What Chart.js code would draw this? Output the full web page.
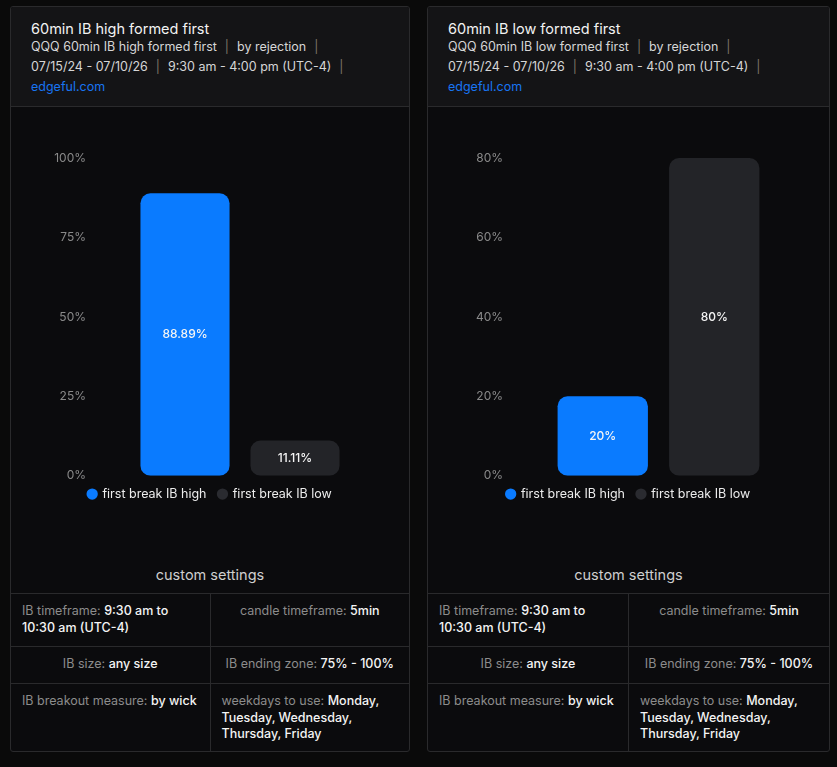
<!DOCTYPE html>
<html>
<head>
<meta charset="utf-8">
<script src="https://cdn.jsdelivr.net/npm/chart.js@4.4.1/dist/chart.umd.min.js"></script>
<style>
  body { margin: 0; background: #0a0a0a; font-family: Inter, "Noto Sans", sans-serif; width: 837px; height: 767px; position: relative; overflow: hidden; }
  .card { position: absolute; top: 6px; height: 744px; border: 1px solid #2a2a2c; border-radius: 3px; background: #0b0b0d; overflow: hidden; }
  .head { height: 100px; background: #141416; border-bottom: 1px solid #2a2a2c; padding-left: 20px; box-sizing: border-box; }
  .title { color: #f2f2f2; font-size: 14.5px; padding-top: 13px; line-height: 18px; }
  .sub { color: #d6d6d6; font-size: 12.5px; line-height: 20px; margin-top: -1px; margin-bottom: 1px; }
  .sep { color: #7c7466; margin: 0 8px; }
  .link { color: #1874f2; font-size: 12.5px; line-height: 20px; margin-top: -1px; }
  .chartbox { position: relative; height: 412px; }
  .cs { text-align: center; color: #cfcfcf; font-size: 14.5px; height: 74px; line-height: 24px; padding-top: 44px; box-sizing: border-box; }
  table { width: 100%; border-collapse: collapse; font-size: 12.5px; line-height: 16.5px; }
  td { border-top: 1px solid #2a2a2c; color: #8c8c8c; vertical-align: top; padding: 9px 11px; width: 50%; box-sizing: border-box; }
  td + td { border-left: 1px solid #2a2a2c; }
  td b { color: #f4f4f4; font-weight: 500; }
  .c { text-align: center; }
  .r1 td { height: 53px; }
  .r2 td { height: 37px; }
  .r3 td { height: 68px; }
</style>
</head>
<body>

<div class="card" style="left:10px;width:398px;">
  <div class="head">
    <div class="title">60min IB high formed first</div>
    <div class="sub">QQQ 60min IB high formed first<span class="sep">|</span>by rejection<span class="sep">|</span></div>
    <div class="sub">07/15/24 - 07/10/26<span class="sep">|</span>9:30 am - 4:00 pm (UTC-4)<span class="sep">|</span></div>
    <div class="link">edgeful.com</div>
  </div>
  <div class="chartbox"><canvas id="leftChart"></canvas></div>
  <div class="cs">custom settings</div>
  <table>
    <tr class="r1"><td>IB timeframe: <b>9:30 am to<br>10:30 am (UTC-4)</b></td><td class="c">candle timeframe: <b>5min</b></td></tr>
    <tr class="r2"><td class="c">IB size: <b>any size</b></td><td class="c">IB ending zone: <b>75% - 100%</b></td></tr>
    <tr class="r3"><td>IB breakout measure: <b>by wick</b></td><td>weekdays to use: <b>Monday,<br>Tuesday, Wednesday,<br>Thursday, Friday</b></td></tr>
  </table>
</div>

<div class="card" style="left:427px;width:401px;">
  <div class="head">
    <div class="title">60min IB low formed first</div>
    <div class="sub">QQQ 60min IB low formed first<span class="sep">|</span>by rejection<span class="sep">|</span></div>
    <div class="sub">07/15/24 - 07/10/26<span class="sep">|</span>9:30 am - 4:00 pm (UTC-4)<span class="sep">|</span></div>
    <div class="link">edgeful.com</div>
  </div>
  <div class="chartbox"><canvas id="rightChart"></canvas></div>
  <div class="cs">custom settings</div>
  <table>
    <tr class="r1"><td>IB timeframe: <b>9:30 am to<br>10:30 am (UTC-4)</b></td><td class="c">candle timeframe: <b>5min</b></td></tr>
    <tr class="r2"><td class="c">IB size: <b>any size</b></td><td class="c">IB ending zone: <b>75% - 100%</b></td></tr>
    <tr class="r3"><td>IB breakout measure: <b>by wick</b></td><td>weekdays to use: <b>Monday,<br>Tuesday, Wednesday,<br>Thursday, Friday</b></td></tr>
  </table>
</div>

<script>
// chart data
const categories = ['first break IB high', 'first break IB low'];
const highFirstValues = [88.89, 11.11];
const lowFirstValues = [20, 80];
const highFirstTicks = [0, 25, 50, 75, 100];
const lowFirstTicks = [0, 20, 40, 60, 80];
const barColors = ['#0a7bff', '#232428'];
const dotColors = ['#0a7bff', '#2a2b30'];

// draws the value in the middle of each bar
const valueLabels = {
    id: 'valueLabels',
    afterDatasetsDraw(chart) {
        const ctx = chart.ctx;
        const meta = chart.getDatasetMeta(0);
        ctx.save();
        ctx.fillStyle = '#f5f5f5';
        ctx.font = '500 12px Inter, sans-serif';
        ctx.textAlign = 'center';
        ctx.textBaseline = 'middle';
        meta.data.forEach((bar, i) => {
            const v = chart.data.datasets[0].data[i];
            ctx.fillText(v + '%', bar.x, (bar.y + bar.base) / 2);
        });
        ctx.restore();
    }
};

function createChart(canvasId, values, ticks) {
    const ctx = document.getElementById(canvasId).getContext('2d');

    new Chart(ctx, {
        type: 'bar',
        data: {
            labels: categories,
            datasets: [{
                data: values,
                backgroundColor: barColors,
                borderRadius: 10,
                borderSkipped: false,
                categoryPercentage: 1,
                barPercentage: 0.81
            }]
        },
        options: {
            responsive: true,
            maintainAspectRatio: false,
            animation: false,
            layout: { padding: { top: 51 } },
            plugins: {
                tooltip: { enabled: false },
                legend: {
                    position: 'bottom',
                    labels: {
                        color: '#ececec',
                        font: { family: 'Inter', size: 12.5 },
                        usePointStyle: true,
                        pointStyle: 'circle',
                        boxWidth: 8,
                        boxHeight: 8,
                        padding: 12,
                        generateLabels: () => categories.map((c, i) => ({
                            text: c,
                            fillStyle: dotColors[i],
                            strokeStyle: dotColors[i],
                            fontColor: '#ececec',
                            lineWidth: 0,
                            pointStyle: 'circle',
                            index: i
                        }))
                    },
                    onClick: () => {}
                }
            },
            scales: {
                x: { display: false },
                y: {
                    min: ticks[0],
                    max: ticks[ticks.length - 1],
                    afterBuildTicks: scale => { scale.ticks = ticks.map(v => ({ value: v })); },
                    afterFit: scale => { scale.width = 119; },
                    grid: { display: false },
                    border: { display: false },
                    ticks: {
                        color: '#8a8a8a',
                        padding: 36,
                        font: { family: 'Inter', size: 12 },
                        callback: v => v + '%'
                    }
                },
                // empty right axis only to keep space on the right
                yRight: {
                    position: 'right',
                    min: 0,
                    max: 1,
                    afterFit: scale => { scale.width = 59; },
                    grid: { display: false },
                    border: { display: false },
                    ticks: { display: false }
                }
            }
        },
        plugins: [valueLabels]
    });
}

createChart('leftChart', highFirstValues, highFirstTicks);
createChart('rightChart', lowFirstValues, lowFirstTicks);
</script>
</body>
</html>
